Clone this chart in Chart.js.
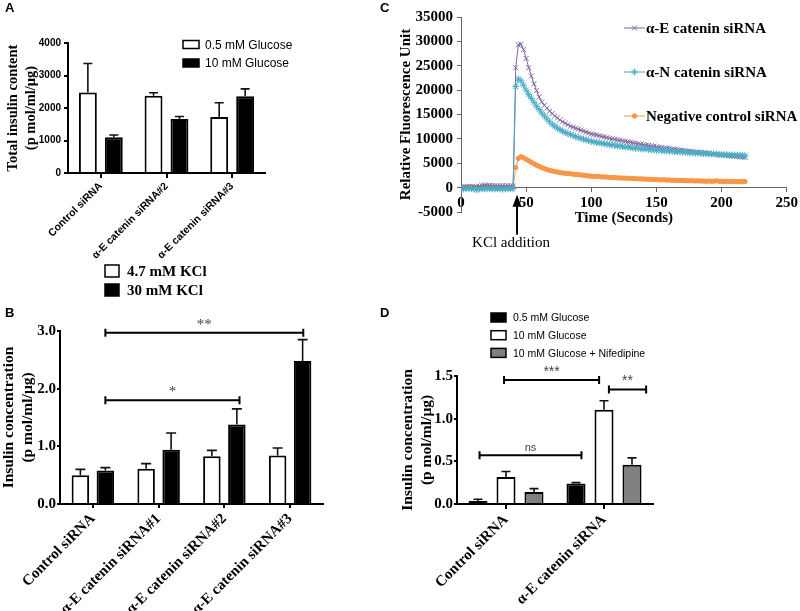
<!DOCTYPE html>
<html>
<head>
<meta charset="utf-8">
<script src="https://cdn.jsdelivr.net/npm/chart.js@4.4.1/dist/chart.umd.min.js"></script>
<style>
  body { margin: 0; width: 800px; height: 611px; background: #fff; position: relative; overflow: hidden; }
  canvas { position: absolute; left: 0; top: 0; }
  .panel { position: absolute; font: bold 13px "Liberation Sans", Arial, sans-serif; line-height: 13px; }
</style>
</head>
<body>
<canvas id="chartA" width="800" height="611"></canvas>
<canvas id="chartB" width="800" height="611"></canvas>
<canvas id="chartC" width="800" height="611"></canvas>
<canvas id="chartD" width="800" height="611"></canvas>
<div class="panel" style="left:5px;top:1px">A</div>
<div class="panel" style="left:380px;top:1px">C</div>
<div class="panel" style="left:5px;top:306px">B</div>
<div class="panel" style="left:380px;top:306px">D</div>
<script>
const SERIF = '"Liberation Serif", "Times New Roman", serif';
const SANS = '"Liberation Sans", Arial, sans-serif';

// ---- Panel A: total insulin content ----
const categoriesA = ['Control siRNA', 'α-E catenin siRNA#2', 'α-E catenin siRNA#3'];
const glucoseLowA = [2480, 2380, 1720];
const glucoseLowErrA = [890, 90, 440];
const glucoseHighA = [1100, 1660, 2360];
const glucoseHighErrA = [70, 80, 230];

// ---- Panel B: KCl stimulated secretion ----
const categoriesB = ['Control siRNA', 'α-E catenin siRNA#1', 'α-E catenin siRNA#2', 'α-E catenin siRNA#3'];
const kclLowB = [0.50, 0.61, 0.83, 0.84];
const kclLowErrB = [0.10, 0.09, 0.10, 0.13];
const kclHighB = [0.58, 0.94, 1.38, 2.48];
const kclHighErrB = [0.05, 0.29, 0.27, 0.37];
// significance brackets (category index, value)
const sigB = [
  {from: 0.19, to: 3.2, y: 2.97, label: '**'},
  {from: 0.19, to: 2.23, y: 1.80, label: '*'}
];

// ---- Panel C: calcium trace ----
const timeC = [0,2,4,6,8,10,12,14,16,18,20,22,24,26,28,30,32,34,36,38,40,
  42,44,46,48,50,52,54,56,58,60,62,64,66,68,70,72,74,76,78,80,82,84,86,88,90,92,94,96,98,100,
  102,104,106,108,110,112,114,116,118,120,122,124,126,128,130,132,134,136,138,140,142,144,146,148,150,
  152,154,156,158,160,162,164,166,168,170,172,174,176,178,180,182,184,186,188,190,192,194,196,198,200,
  202,204,206,208,210,212,214,216,218];
const alphaEC = [100,0,100,50,0,100,200,300,450,500,450,450,400,400,350,400,400,350,400,400,350,
  24600,29300,29400,28300,26500,24600,22900,21300,19900,18600,
  17600,16900,16300,15700,15200,14700,14300,13900,13500,13200,
  12900,12600,12400,12200,12000,11800,11600,11400,11200,11000,
  10900,10800,10650,10500,10400,10250,10100,10000,9900,9800,
  9700,9600,9500,9400,9300,9200,9100,9000,8900,8800,
  8700,8650,8550,8500,8400,8300,8250,8150,8100,8000,
  7950,7850,7800,7700,7650,7550,7500,7450,7350,7300,
  7250,7200,7100,7050,7000,6950,6900,6850,6750,6700,
  6650,6600,6550,6500,6450,6400,6300,6250,6200];
const alphaNC = [-200,-250,-200,-150,-200,-300,-400,-300,-250,-250,-200,-200,-250,-250,-200,-250,-300,-250,-250,-200,-200,
  20700,22300,21900,21000,20000,19100,18300,17500,16700,16000,
  15300,14700,14100,13500,13000,12600,12200,11900,11600,11300,
  11100,10900,10700,10450,10250,10100,9950,9800,9650,9500,
  9400,9300,9200,9100,9000,8900,8850,8750,8650,8600,
  8500,8450,8350,8300,8250,8150,8100,8050,8000,7950,
  7900,7850,7800,7750,7700,7650,7600,7550,7500,7500,
  7450,7400,7350,7350,7300,7250,7200,7200,7150,7100,
  7100,7050,7000,7000,6950,6900,6900,6850,6800,6800,
  6750,6750,6700,6700,6650,6650,6600,6600,6550];
const negCtrlC = [0,100,200,250,200,150,50,0,100,150,200,100,100,50,100,50,0,50,0,50,100,
  4100,6000,6350,6100,5800,5500,5200,4900,4600,4350,
  4100,3900,3700,3550,3400,3300,3200,3100,3000,2950,
  2900,2850,2750,2700,2650,2600,2550,2450,2400,2350,
  2300,2300,2250,2200,2200,2150,2100,2100,2050,2000,
  2000,1950,1950,1900,1900,1850,1850,1800,1800,1750,
  1750,1700,1700,1650,1650,1600,1600,1600,1550,1550,
  1500,1500,1500,1450,1450,1450,1400,1400,1400,1350,
  1400,1350,1350,1300,1350,1300,1300,1400,1300,1300,
  1250,1300,1250,1250,1250,1200,1250,1200,1250];
const kclTimeC = 43;

// ---- Panel D: glucose / nifedipine ----
const categoriesD = ['Control siRNA', 'α-E catenin siRNA'];
const glucoseLowD = [0.035, 0.24];
const glucoseLowErrD = [0.02, 0.01];
const glucoseHighD = [0.315, 1.105];
const glucoseHighErrD = [0.065, 0.105];
const nifedipineD = [0.14, 0.46];
const nifedipineErrD = [0.04, 0.08];
const sigD = [
  {from: -0.02, to: 0.95, y: 1.452, label: '***', font: '14px ' + SANS},
  {from: 1.05, to: 1.43, y: 1.342, label: '**', font: '14px ' + SANS},
  {from: -0.27, to: 0.77, y: 0.571, label: 'ns', font: '11px ' + SANS}
];

// ---- helpers ----
function errorBars(cap) {
  return {
    id: 'errorBars',
    afterDatasetsDraw(chart) {
      const ctx = chart.ctx, y = chart.scales.y;
      ctx.save();
      ctx.strokeStyle = '#111';
      ctx.lineWidth = 1.6;
      chart.data.datasets.forEach((ds, i) => {
        if (!ds.errors) return;
        chart.getDatasetMeta(i).data.forEach((bar, j) => {
          const top = y.getPixelForValue(ds.data[j] + ds.errors[j]);
          ctx.beginPath();
          ctx.moveTo(bar.x, bar.y);
          ctx.lineTo(bar.x, top);
          ctx.moveTo(bar.x - cap, top);
          ctx.lineTo(bar.x + cap, top);
          ctx.stroke();
        });
      });
      ctx.restore();
    }
  };
}

function brackets(items, font, color) {
  return {
    id: 'brackets',
    afterDatasetsDraw(chart) {
      const {ctx, scales: {x, y}} = chart;
      ctx.save();
      ctx.strokeStyle = '#000';
      ctx.lineWidth = 2;
      ctx.textAlign = 'center';
      ctx.textBaseline = 'alphabetic';
      items.forEach(b => {
        const x1 = x.getPixelForValue(b.from), x2 = x.getPixelForValue(b.to);
        const yy = y.getPixelForValue(b.y);
        ctx.beginPath();
        ctx.moveTo(x1, yy); ctx.lineTo(x2, yy);
        ctx.moveTo(x1, yy - 4); ctx.lineTo(x1, yy + 4);
        ctx.moveTo(x2, yy - 4); ctx.lineTo(x2, yy + 4);
        ctx.stroke();
        ctx.font = b.font || font;
        ctx.fillStyle = color;
        ctx.fillText(b.label, (x1 + x2) / 2, yy - 4);
      });
      ctx.restore();
    }
  };
}

// legend with filled boxes, one row per dataset
function boxLegend(left, top, gap, boxW, boxH, textX, font) {
  return {
    id: 'boxLegend',
    afterDraw(chart) {
      const ctx = chart.ctx;
      ctx.save();
      ctx.font = font;
      ctx.textBaseline = 'middle';
      chart.data.datasets.forEach((ds, i) => {
        const y = top + i * gap;
        ctx.fillStyle = ds.backgroundColor;
        ctx.fillRect(left, y, boxW, boxH);
        ctx.strokeStyle = '#000';
        ctx.lineWidth = 1.5;
        ctx.strokeRect(left, y, boxW, boxH);
        ctx.fillStyle = '#000';
        ctx.fillText(ds.label, textX, y + boxH / 2 + 1);
      });
      ctx.restore();
    }
  };
}

function barYAxis(o) {
  return {
    min: o.min, max: o.max,
    ticks: {stepSize: o.step, color: '#000', font: o.tickFont, padding: o.tickPad, callback: o.format},
    grid: {drawOnChartArea: false, drawTicks: true, tickLength: o.tickLen, color: '#000', lineWidth: 2},
    border: {color: '#000', width: 2},
    title: {display: true, text: o.title, color: '#000', font: o.titleFont, padding: {top: o.titlePad, bottom: 0}},
    afterFit: s => { s.width = o.width; }
  };
}

function barXAxis(o) {
  return {
    ticks: {color: '#000', font: o.tickFont, minRotation: 45, maxRotation: 45, autoSkip: false, padding: o.tickPad},
    grid: {offset: false, drawOnChartArea: false, drawTicks: true, tickLength: o.tickLen, color: '#000', lineWidth: 2},
    border: {color: '#000', width: 2},
    afterFit: s => { s.height = o.height; }
  };
}

const base = {
  responsive: false,
  animation: false,
  devicePixelRatio: 1,
  events: []
};

// ---- Chart A ----
new Chart(document.getElementById('chartA'), {
  type: 'bar',
  data: {
    labels: categoriesA,
    datasets: [
      {label: '0.5 mM Glucose', data: glucoseLowA, errors: glucoseLowErrA, backgroundColor: '#fff',
       borderColor: '#000', borderWidth: 2, categoryPercentage: 0.79, barPercentage: 0.69},
      {label: '10 mM Glucose', data: glucoseHighA, errors: glucoseHighErrA, backgroundColor: '#000',
       borderColor: '#000', borderWidth: 2, categoryPercentage: 0.79, barPercentage: 0.69}
    ]
  },
  options: {
    ...base,
    layout: {padding: {left: 0, top: 43, right: 535, bottom: 348}},
    plugins: {legend: {display: false}, tooltip: {enabled: false}},
    scales: {
      x: barXAxis({tickFont: {family: SANS, size: 10.5, weight: 'bold'}, tickPad: 2, tickLen: 5, height: 90}),
      y: barYAxis({min: 0, max: 4000, step: 1000, format: v => String(v),
        tickFont: {family: SANS, size: 10, weight: 'bold'}, tickPad: 3, tickLen: 4,
        title: ['Total insulin content', '(p mol/ml/μg)'],
        titleFont: {family: SERIF, size: 14.5, weight: 'bold'}, titlePad: 5, width: 68})
    }
  },
  plugins: [errorBars(4.5), boxLegend(183, 40.5, 18.5, 16, 8, 205, '12px ' + SANS)]
});

// ---- Chart B ----
new Chart(document.getElementById('chartB'), {
  type: 'bar',
  data: {
    labels: categoriesB,
    datasets: [
      {label: '4.7 mM KCl', data: kclLowB, errors: kclLowErrB, backgroundColor: '#fff',
       borderColor: '#000', borderWidth: 2, categoryPercentage: 0.76, barPercentage: 0.7},
      {label: '30 mM KCl', data: kclHighB, errors: kclHighErrB, backgroundColor: '#000',
       borderColor: '#000', borderWidth: 2, categoryPercentage: 0.76, barPercentage: 0.7}
    ]
  },
  options: {
    ...base,
    layout: {padding: {left: 0, top: 331, right: 477, bottom: 0}},
    plugins: {legend: {display: false}, tooltip: {enabled: false}},
    scales: {
      x: barXAxis({tickFont: {family: SERIF, size: 15, weight: 'bold'}, tickPad: 2, tickLen: 4, height: 107}),
      y: barYAxis({min: 0, max: 3, step: 1, format: v => v.toFixed(1),
        tickFont: {family: SERIF, size: 15, weight: 'bold'}, tickPad: 1, tickLen: 3,
        title: ['Insulin concentration', '(p mol/ml/μg)'],
        titleFont: {family: SERIF, size: 15.5, weight: 'bold'}, titlePad: 0, width: 60})
    }
  },
  plugins: [errorBars(5), brackets(sigB, '15px ' + SERIF, '#444'),
            boxLegend(105, 265, 19, 14, 12, 127, 'bold 15px ' + SERIF)]
});

// ---- Chart C ----
const seriesC = [
  {label: 'α-E catenin siRNA', values: alphaEC, color: '#8064A2', style: 'crossRot', radius: 3.5, order: 1},
  {label: 'α-N catenin siRNA', values: alphaNC, color: '#4BACC6', style: 'star', radius: 3.5, order: 0},
  {label: 'Negative control siRNA', values: negCtrlC, color: '#F79646', style: 'circle', radius: 2.2, order: 2}
];

const lineLegendC = {
  id: 'lineLegendC',
  afterDraw(chart) {
    const ctx = chart.ctx;
    ctx.save();
    ctx.font = 'bold 15px ' + SERIF;
    ctx.textBaseline = 'middle';
    chart.data.datasets.forEach((ds, i) => {
      const y = 28 + i * 44;
      ctx.strokeStyle = ds.borderColor;
      ctx.fillStyle = ds.pointBackgroundColor;
      ctx.lineWidth = 1;
      ctx.beginPath();
      ctx.moveTo(624, y); ctx.lineTo(645, y);
      ctx.stroke();
      Chart.helpers.drawPoint(ctx, {pointStyle: ds.pointStyle, radius: ds.pointRadius, borderWidth: 1, rotation: 0}, 634.5, y);
      ctx.fillStyle = '#000';
      ctx.fillText(ds.label, 646, y + 1);
    });
    ctx.restore();
  }
};

const kclArrowC = {
  id: 'kclArrowC',
  afterDraw(chart) {
    const ctx = chart.ctx;
    const x = chart.scales.x.getPixelForValue(kclTimeC);
    const y0 = chart.scales.y.getPixelForValue(0);
    ctx.save();
    ctx.strokeStyle = '#000';
    ctx.fillStyle = '#000';
    ctx.lineWidth = 2;
    ctx.beginPath();
    ctx.moveTo(x, y0 + 16); ctx.lineTo(x, y0 + 47);
    ctx.stroke();
    ctx.beginPath();
    ctx.moveTo(x, y0 + 7); ctx.lineTo(x - 4.5, y0 + 19); ctx.lineTo(x + 4.5, y0 + 19);
    ctx.closePath();
    ctx.fill();
    ctx.font = '15px ' + SERIF;
    ctx.textAlign = 'center';
    ctx.textBaseline = 'middle';
    ctx.fillText('KCl addition', x - 6, y0 + 55);
    ctx.font = 'bold 15px ' + SERIF;
    ctx.fillText('Time (Seconds)', (chart.chartArea.left + chart.chartArea.right) / 2, y0 + 30);
    ctx.restore();
  }
};

new Chart(document.getElementById('chartC'), {
  type: 'line',
  data: {
    datasets: seriesC.map(s => ({
      label: s.label,
      data: timeC.map((t, i) => ({x: t, y: s.values[i]})),
      borderColor: s.color,
      backgroundColor: s.color,
      pointBackgroundColor: s.color,
      pointBorderColor: s.color,
      pointStyle: s.style,
      pointRadius: s.radius,
      pointBorderWidth: 1,
      borderWidth: 1,
      tension: 0,
      order: s.order
    }))
  },
  options: {
    ...base,
    layout: {padding: {left: 395, top: 17, right: 12, bottom: 399}},
    plugins: {legend: {display: false}, tooltip: {enabled: false}},
    scales: {
      x: {
        type: 'linear', position: {y: 0}, min: 0, max: 250,
        ticks: {stepSize: 50, color: '#000', font: {family: SERIF, size: 15, weight: 'bold'}, padding: 2, callback: v => String(v)},
        grid: {drawOnChartArea: false, drawTicks: true, tickLength: 4, color: '#666', lineWidth: 1},
        border: {color: '#666', width: 1}
      },
      y: {
        min: -5000, max: 35000,
        ticks: {stepSize: 5000, color: '#000', font: {family: SERIF, size: 15, weight: 'bold'}, padding: 4, callback: v => String(v)},
        grid: {drawOnChartArea: false, drawTicks: true, tickLength: 4, color: '#666', lineWidth: 1},
        border: {color: '#666', width: 1},
        title: {display: true, text: 'Relative Fluorescence Unit', color: '#000',
                font: {family: SERIF, size: 15, weight: 'bold'}, padding: {top: 2, bottom: 0}},
        afterFit: s => { s.width = 66; }
      }
    }
  },
  plugins: [lineLegendC, kclArrowC]
});

// ---- Chart D ----
new Chart(document.getElementById('chartD'), {
  type: 'bar',
  data: {
    labels: categoriesD,
    datasets: [
      {label: '0.5 mM Glucose', data: glucoseLowD, errors: glucoseLowErrD, backgroundColor: '#000',
       borderColor: '#000', borderWidth: 2, categoryPercentage: 0.857, barPercentage: 0.68},
      {label: '10 mM Glucose', data: glucoseHighD, errors: glucoseHighErrD, backgroundColor: '#fff',
       borderColor: '#000', borderWidth: 2, categoryPercentage: 0.857, barPercentage: 0.68},
      {label: '10 mM Glucose + Nifedipine', data: nifedipineD, errors: nifedipineErrD, backgroundColor: '#808080',
       borderColor: '#000', borderWidth: 2, categoryPercentage: 0.857, barPercentage: 0.68}
    ]
  },
  options: {
    ...base,
    layout: {padding: {left: 395, top: 376, right: 147, bottom: 0}},
    plugins: {legend: {display: false}, tooltip: {enabled: false}},
    scales: {
      x: barXAxis({tickFont: {family: SERIF, size: 15, weight: 'bold'}, tickPad: 2, tickLen: 5, height: 107}),
      y: barYAxis({min: 0, max: 1.5, step: 0.5, format: v => v.toFixed(1),
        tickFont: {family: SERIF, size: 15, weight: 'bold'}, tickPad: 1, tickLen: 3,
        title: ['Insulin concentration', '(p mol/ml/μg)'],
        titleFont: {family: SERIF, size: 15.5, weight: 'bold'}, titlePad: 4, width: 62})
    }
  },
  plugins: [errorBars(4.5), brackets(sigD, '14px ' + SANS, '#444'),
            boxLegend(491, 313, 17.7, 15, 9, 513, '10.5px ' + SANS)]
});
</script>
</body>
</html>
